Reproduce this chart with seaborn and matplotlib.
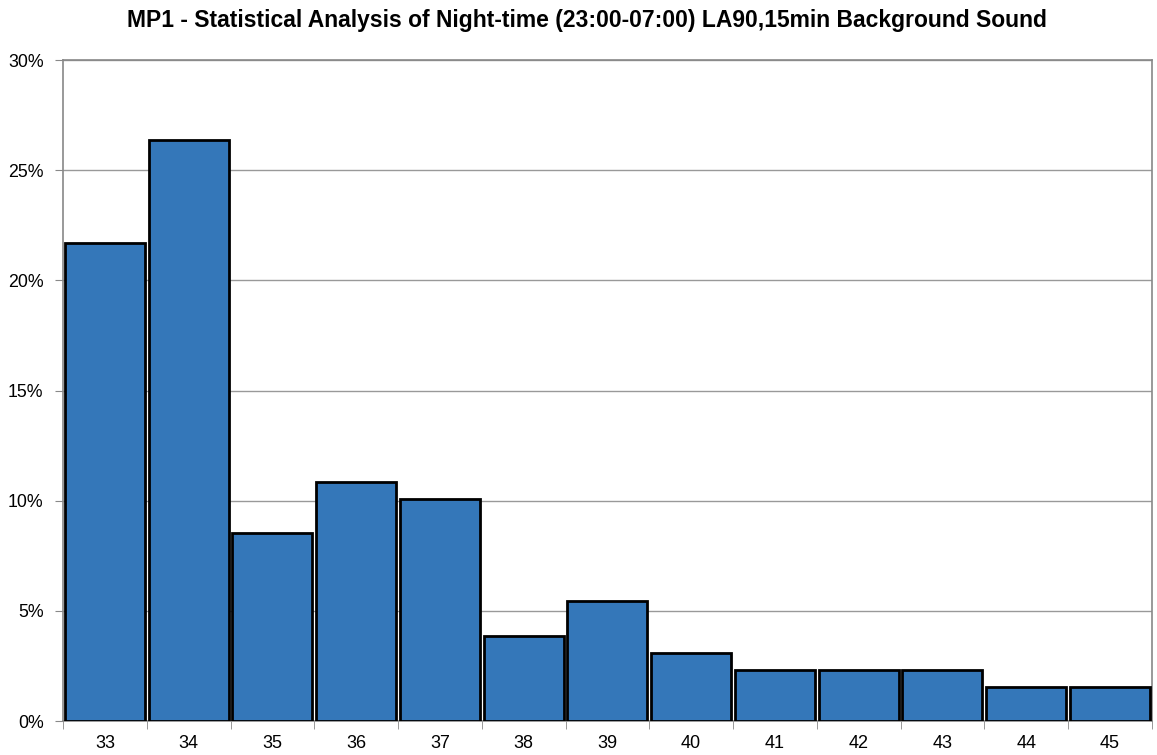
import numpy as np
import pandas as pd
import seaborn as sns
import matplotlib.pyplot as plt
from matplotlib.ticker import PercentFormatter, FixedLocator

# LA90 levels (dB) and share of night-time periods (%)
levels = ["33", "34", "35", "36", "37", "38", "39", "40", "41", "42", "43", "44", "45"]
share = [21.7, 26.36, 8.53, 10.85, 10.08, 3.88, 5.43, 3.10, 2.33, 2.33, 2.33, 1.55, 1.55]

df = pd.DataFrame({"level": levels, "share": share})

sns.set_style("white")
plt.rcParams["font.family"] = ["Liberation Sans", "DejaVu Sans"]
plt.rcParams["text.color"] = "black"
plt.rcParams["xtick.color"] = "black"
plt.rcParams["ytick.color"] = "black"

fig = plt.figure(figsize=(11.57, 7.55), dpi=100)
ax = fig.add_axes([0.0545, 0.045, 0.941, 0.8755])

sns.barplot(x="level", y="share", data=df, color="#3477B9", saturation=1,
            width=0.955, edgecolor="black", linewidth=2, ax=ax, zorder=3)

ax.set_ylim(0, 30)
ax.set_xlim(-0.5, len(levels) - 0.5)
ax.set_yticks(np.arange(0, 31, 5))
ax.yaxis.set_major_formatter(PercentFormatter(decimals=0))
ax.yaxis.grid(True, color="#999999", linewidth=1, zorder=0)

# tick marks sit between categories, labels under the bars
ax.xaxis.set_minor_locator(FixedLocator(np.arange(-0.5, len(levels), 1)))
ax.tick_params(axis="x", which="major", length=0, pad=10, labelsize=13, labelcolor="black")
ax.tick_params(axis="x", which="minor", length=6, color="#888888", direction="out", bottom=True)
ax.tick_params(axis="y", length=6, color="#888888", direction="out", left=True,
               labelsize=12.8, pad=8, labelcolor="black")

for s in ax.spines.values():
    s.set_color("#888888")
    s.set_linewidth(1.2)

ax.set_xlabel("")
ax.set_ylabel("")
fig.suptitle("MP1 - Statistical Analysis of Night-time (23:00-07:00) LA90,15min Background Sound",
             fontsize=16.5, fontweight="bold", y=0.988, x=0.507, color="black")

plt.savefig("out.png", dpi=100)
